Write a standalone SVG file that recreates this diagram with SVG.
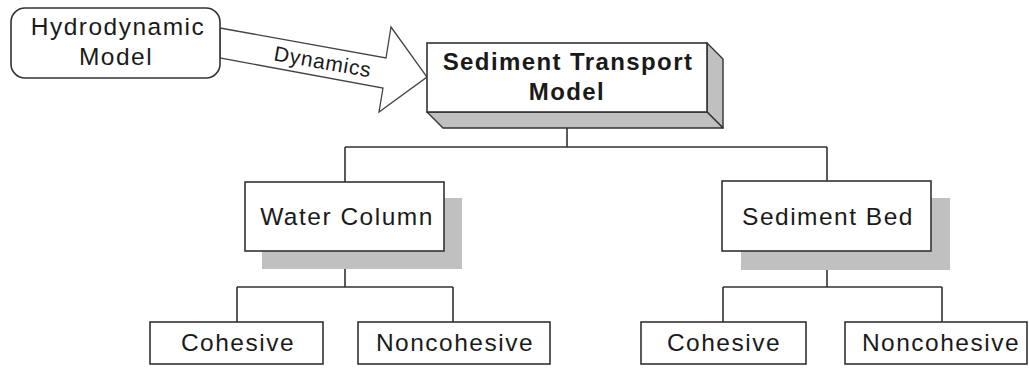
<svg xmlns="http://www.w3.org/2000/svg" width="1029" height="369" viewBox="0 0 1029 369">
<style>
.box{fill:#fff;stroke:#333;stroke-width:1.6}
.shadow{fill:#c0c0c0;stroke:none}
.face{fill:#c0c0c0;stroke:#333;stroke-width:1.4;stroke-linejoin:round}
.t{font-family:"Liberation Sans",Arial,sans-serif;font-size:24.5px;letter-spacing:1.5px;fill:#1a1a1a;text-anchor:middle}
.b{font-weight:bold;font-size:24px;letter-spacing:1.4px}
.line{fill:none;stroke:#333;stroke-width:1.6}
</style>
<rect width="1029" height="369" fill="#fff"/>
<g id="connectors">
<polygon points="220,28 386,58 391,27 427,77 379,112 383,88 220,58" fill="#fff" stroke="#444" stroke-width="1.3" stroke-linejoin="miter"/>
<text class="t" x="323" y="69" style="font-size:21px;letter-spacing:0.8px" transform="rotate(10 323 61)">Dynamics</text>
<path class="line" d="M567,112 V147 M345,147 H827 M345,147 V182 M827,147 V181"/>
<path class="line" d="M345,251 V287 M237,287 H453 M237,287 V322 M453,287 V322"/>
<path class="line" d="M827,251 V287 M723,287 H942 M723,287 V322 M942,287 V322"/>
</g>
<g id="hydrodynamic">
<rect class="box" x="11" y="8" width="209" height="70" rx="14"/>
<text class="t" x="118" y="35">Hydrodynamic</text>
<text class="t" x="116" y="65">Model</text>
</g>
<g id="sediment-transport">
<polygon class="face" points="707,43 723,59 723,128 707,112"/>
<polygon class="face" points="427,112 443,128 723,128 707,112"/>
<rect class="box" x="427" y="43" width="280" height="69"/>
<text class="t b" x="568" y="70">Sediment Transport</text>
<text class="t b" x="567" y="100">Model</text>
</g>
<g id="water-column">
<rect class="shadow" x="262" y="198" width="200" height="71"/>
<rect class="box" x="245" y="182" width="199" height="69"/>
<text class="t" x="347" y="225">Water Column</text>
</g>
<g id="sediment-bed">
<rect class="shadow" x="741" y="198" width="209" height="72"/>
<rect class="box" x="722" y="181" width="209" height="70"/>
<text class="t" x="828" y="225">Sediment Bed</text>
</g>
<g id="wc-cohesive">
<rect class="box" x="150" y="322" width="173" height="42"/>
<text class="t" x="238" y="351">Cohesive</text>
</g>
<g id="wc-noncohesive">
<rect class="box" x="358" y="322" width="192" height="42"/>
<text class="t" x="455" y="351">Noncohesive</text>
</g>
<g id="sb-cohesive">
<rect class="box" x="641" y="322" width="165" height="42"/>
<text class="t" x="724" y="351">Cohesive</text>
</g>
<g id="sb-noncohesive">
<rect class="box" x="845" y="322" width="182" height="42"/>
<text class="t" x="941" y="351">Noncohesive</text>
</g>
</svg>
